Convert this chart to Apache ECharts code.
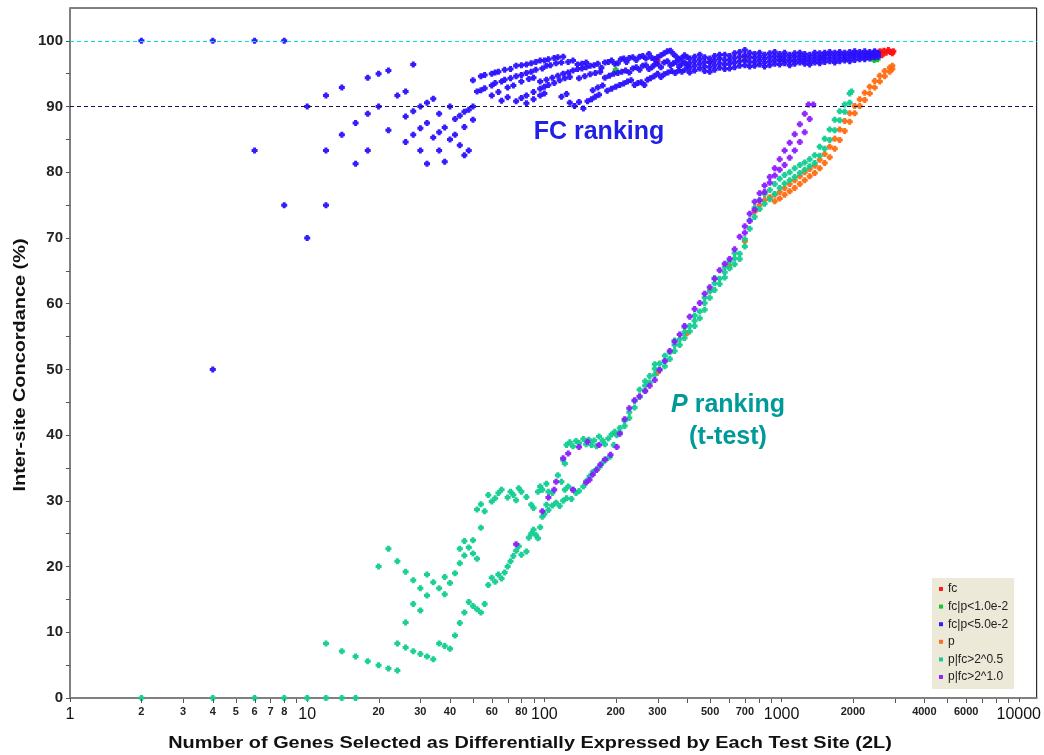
<!DOCTYPE html>
<html>
<head>
<meta charset="utf-8">
<script src="https://cdn.jsdelivr.net/npm/echarts@6/dist/echarts.min.js"></script>
<style>
  html, body { margin: 0; padding: 0; background: #ffffff; }
  #chart { width: 1044px; height: 755px; }
</style>
</head>
<body>
<div id="chart"></div>
<script>
// Series names and colours (legend order)
const seriesNames = ['fc', 'fc|p<1.0e-2', 'fc|p<5.0e-2', 'p', 'p|fc>2^0.5', 'p|fc>2^1.0'];
const seriesColors = ['#ff1010', '#10c020', '#2a10ff', '#ff6a10', '#10cc90', '#8a1cff'];

// x-axis tick values / labels (log scale, genes selected = 2L)
const xMinorTickValues = [2,3,4,5,6,7,8,9,20,30,40,50,60,70,80,90,200,300,400,500,600,700,800,900,2000,3000,4000,5000,6000,7000,8000,9000];
const xMinorLabelValues = [2,3,4,5,6,7,8,20,30,40,60,80,200,300,500,700,2000,4000,6000];
const yLabelValues = [0,10,20,30,40,50,60,70,80,90,100];
const yTickValues = [0,5,10,15,20,25,30,35,40,45,50,55,60,65,70,75,80,85,90,95,100];
const refLines = [100, 90];

// fc : mostly hidden under the other FC curves, visible at the far end
const fcPoints = [
  [300,97.0],[500,96.8],[700,97.5],[1000,97.3],[1500,97.6],[2000,97.8],[2300,98.0],
  [2470,98.2],[2540,97.9],[2600,98.4],[2650,97.8],[2700,98.5],[2760,98.2],[2820,98.6],
  [2880,98.3],[2930,98.1],[2960,98.4]
];

// fc|p<1.0e-2
const fcP01Points = [
  [200,95.6],[400,96.4],[700,97.0],[1000,97.2],[1500,97.3],[2000,97.5],[2300,97.6],
  [2420,97.3],[2460,97.1],[2500,97.4],[2540,97.2]
];

// fc|p<5.0e-2 : small-n discrete values, then streaks, then the dense band
const fcP05Early = [
  [2,100],[4,100],[4,50],[6,100],[6,83.3],[8,100],[8,75],[10,90],[10,70],
  [12,91.7],[12,83.3],[12,75],[14,92.9],[14,85.7],[16,87.5],[16,81.3],
  [18,94.4],[18,88.9],[18,83.3],[20,95],[20,90],[22,95.5],[22,86.4],
  [24,91.7],[26,92.3],[26,88.5],[26,84.6],[28,96.4],[28,89.3],[28,85.7],
  [30,90],[30,86.7],[30,83.3],[32,90.6],[32,87.5],[32,81.3],[34,91.2],[34,85.3],
  [36,88.9],[36,86.1],[36,83.3],[38,86.8],[38,81.6],[40,90],[40,85],[42,88.1],[42,85.7],
  [44,88.6],[44,84.1],[46,89.2],[46,86.9],[46,82.6],[48,89.5],[48,83.3],[50,90],[50,88]
];
const fcP05Streaks = [
  [50,94.0],[54,94.6],[56,94.8],[60,95.0],[62,95.2],[64,95.3],[68,95.6],[72,95.7],[76,96.2],
  [80,96.3],[84,96.4],[88,96.6],[92,96.8],[96,97.0],[100,97.0],[104,97.2],[110,97.4],[114,97.5],[120,97.6],
  [52,92.3],[54,92.5],[56,92.8],[60,93.2],[62,93.6],[66,93.8],[68,94.1],[72,94.3],[76,94.6],
  [80,94.8],[84,95.1],[88,95.3],[92,95.6],[98,95.8],[102,96.2],[106,96.3],[112,96.6],[118,96.7],
  [60,91.7],[64,92.2],[70,92.9],[74,93.2],[80,93.8],[86,94.2],[90,94.4],
  [76,90.8],[80,91.3],[84,91.7],[90,92.2],[96,92.7],[100,93.0],[104,93.3],[110,93.6],[116,94.0],[122,94.3],[128,94.5],
  [84,90.5],[90,91.1],[96,91.7],[100,92.0],
  [66,90.9],[70,91.4],[96,93.8],[102,94.1],[108,94.4],[114,94.7],[120,95.0],[126,95.2],[132,95.5],[138,95.7],[144,95.8],[150,96.0],
  [118,91.5],[124,91.9],[128,90.6],[134,90.1],[140,90.7],[146,89.7],[152,90.8],[158,91.1],[164,91.5],[170,91.8]
];
const fcP05Cloud = [
  [126,96.8],[132,97.0],[138,96.4],[144,96.5],[150,96.7],[156,96.2],[162,96.3],[168,96.5],[174,95.9],[180,96.7],
  [186,96.8],[192,97.0],[198,96.5],[204,96.6],[210,97.2],[216,97.3],[222,96.8],[228,97.4],[236,97.5],[244,97.1],
  [252,97.6],[260,97.7],[268,97.3],[276,98.0],[284,97.4],[292,97.2],[300,97.5],[310,97.8],[320,98.1],[330,98.4],
  [340,98.5],[350,98.0],[360,97.6],[370,97.2],[380,97.4],[390,97.8],[400,97.5],
  [140,94.3],[148,94.6],[156,94.9],[164,95.1],[172,95.3],[180,94.4],[188,94.7],[196,95.0],[204,95.1],[212,95.3],
  [220,95.5],[228,95.2],[236,95.8],[244,96.0],[252,95.6],[260,96.2],[268,96.3],[276,95.7],[284,96.0],[292,96.4],
  [300,96.5],[310,96.0],[320,96.7],[330,96.9],[340,96.3],[350,96.6],[360,96.8],[370,96.1],[380,96.5],[390,96.7],[400,96.3],
  [160,92.5],[168,92.9],[176,93.2],[184,92.4],[192,92.7],[200,93.0],[208,93.3],[216,93.5],[224,93.8],[232,94.0],
  [240,93.3],[248,93.6],[256,93.7],[264,93.3],[272,94.1],[280,94.3],[290,94.6],[300,95.0],[310,94.5],[320,94.9],
  [332,95.2],[344,95.4],[356,95.1],[368,95.5],[380,95.3],[392,95.6]
];
// dense band: gene counts and the concordance values seen at each count
const fcP05BandN = [410,430,452,474,498,522,548,576,604,634,666,700,734,770,808,848,892,936,982,1030,
  1082,1136,1194,1252,1314,1380,1448,1520,1596,1676,1758,1846,1938,2034,2136,2242,2354,2470,2550];
const fcP05BandV = [
  [95.2,95.9,96.6,97.3],[95.5,96.2,96.9,97.6],[95.8,96.5,97.2,97.9],[95.4,96.1,96.8,97.5],[95.3,96.0,96.7,97.3],
  [95.6,96.3,97.0,97.7],[95.9,96.6,97.3,97.9],[95.7,96.4,97.1,97.9],[95.8,96.5,97.1,97.7],[96.0,96.7,97.4,98.1],
  [96.2,96.9,97.6,98.3],[96.3,97.0,97.8,98.6],[96.1,96.8,97.5,98.2],[96.2,96.8,97.4,98.0],[96.4,97.0,97.6,98.2],
  [96.1,96.7,97.3,97.9],[96.3,96.9,97.5,98.1],[96.5,97.1,97.7,98.3],[96.4,97.0,97.5,98.0],[96.6,97.1,97.7,98.2],
  [96.3,96.9,97.4,97.9],[96.5,97.0,97.6,98.1],[96.7,97.2,97.7,98.2],[96.5,97.0,97.5,98.0],[96.4,96.9,97.4,97.9],
  [96.7,97.2,97.7,98.2],[96.6,97.1,97.6,98.1],[96.8,97.3,97.8,98.2],[96.9,97.4,97.9,98.3],[96.7,97.2,97.7,98.2],
  [96.9,97.4,97.9,98.3],[97.0,97.4,97.8,98.2],[96.9,97.4,97.9,98.3],[97.1,97.6,98.0,98.4],[97.2,97.6,98.0,98.3],
  [97.2,97.6,98.0,98.4],[97.3,97.7,98.0,98.3],[97.5,97.8,98.1,98.4],[97.6,98.0,98.2]
];

// p : two tracks from the mid range up to the end
const pBandN = [770,808,848,892,936,982,1030,1082,1136,1194,1252,1314,1380,1448,1520,1596,1676,1758,
  1846,1938,2034,2136,2242,2354,2470,2594,2722,2858,2930];
const pBandV = [
  [74.0],[75.0],[75.8],[76.2],[76.6,75.6],[77.0,76.0],[77.6,76.6],[78.2,77.1],[78.8,77.6],[79.4,78.2],
  [80.0,78.8],[80.5,79.4],[81.0,79.9],[81.9,80.6],[82.8,81.4],[83.9,82.3],[85.1,83.6],[86.5,84.9],
  [87.8,86.3],[89.0,87.7],[90.1,89.0],[91.1,90.1],[92.1,91.0],[93.0,92.0],[93.9,92.9],[94.7,93.8],
  [95.4,94.6],[95.9,95.3],[96.2,95.7]
];
const pEarly = [[300,49.5],[400,55.5],[500,62],[600,65.8],[700,69.5]];

// p|fc>2^0.5 : low-n values and branches
const pFc05Sparse = [
  [2,0],[4,0],[6,0],[8,0],[10,0],[12,0],[14,0],[16,0],
  [12,8.3],[14,7.1],[16,6.3],[18,5.6],[20,5],[22,4.5],[24,4.2],[20,20],[22,22.7],[24,20.8],[26,19.2],[28,17.9],
  [32,18.8],[30,16.7],[26,11.5],[28,14.3],[30,13.3],[32,15.6],[24,8.3],[26,7.7],[28,7.1],[30,6.7],[32,6.3],
  [34,5.9],[36,8.3],[38,7.9],[40,7.5],[42,9.5],[44,11.4],[46,13],[48,14.6],[50,14],[52,13.5],[54,13],[56,14.3],
  [34,17.6],[36,16.7],[38,18.4],[38,15.8],[40,17.5],[42,19],[44,20.5],[44,22.7],[46,21.7],[46,23.9],[48,22.9],
  [50,22],[50,24],[52,21.2],[54,25.9],
  [58,17.2],[60,18.3],[62,17.7],[64,18.8],[66,18.2],[68,19.1],[70,20],[72,20.8],[74,21.6],[76,22.4],[78,23.1],
  [80,21.8],[84,22.3],[86,24.4],[88,25],[90,25.6],[92,24.8],[94,24.3],[96,26],[98,27.6],[100,28],[102,29.4],
  [52,28.7],[54,29.5],[56,28.4],[58,30.9],[60,29.9],[62,30.4],[64,31.2],[66,31.7],[70,30.5],[72,31.4],[74,30.9],
  [76,30.1],[78,31.9],[80,31.4],[84,30.6],[88,29.4],[90,28.9],[94,31.4],[96,32.2],[98,31.7],[102,32.6],[104,31.4],
  [108,31.2],[114,33.9],[118,32.9],[122,31.7],[126,32.2],[132,31.7],[136,31.2],
  [120,36.2],[122,35.7],[124,38.5],[128,38.9],[132,38.3],[136,39.1],[140,38.8],[146,39.4],[150,38.6],[154,39.3],
  [158,38.5],[162,39.2],[166,38.3],[170,39.8],[176,39.2],[180,38.6],[186,39.5],[192,40.1],[198,40.5],
  [104,28.6],[108,29.3],[112,29.7],[116,29.2],[120,30],[124,30.4],[130,30.3],[140,31.5],[146,32.2],
  [150,33],[155,33.7],[160,34.4],[166,34.8],[171,35.2],[176,35.8],[182,36.3],[189,36.7],[196,38.5],[202,40]
];
// p|fc>2^0.5 : main band, gene counts and values at each count
const pFc05BandN = [208,218,228,240,252,266,278,292,306,322,338,354,372,390,410,430,452,474,498,522,548,576,
  604,634,666,700,734,770,808,848,892,936,982,1030,1082,1136,1194,1252,1314,1380,1448,1520,1596,1676,1758,
  1846,1938,1970];
const pFc05BandV = [
  [41.1,40.4],[42.2,41.4],[43.5,42.6],[45.2,44.2],[46.9,45.8],[47.5,46.7,48.2],[49.0,48.0],[50.1,49.2,50.8],[50.9,50.0],
  [51.3,50.5,52.1],[52.6,51.6],[53.7,52.8,54.4],[54.6,53.7],[55.7,54.8,56.4],[56.6,55.8],[57.4,56.6,58.2],[58.8,57.8],[60.1,59.1,60.9],
  [61.9,60.9],[63.1,62.1,63.9],[63.8,63.0],[64.8,64.0,65.6],[66.4,65.4],[66.9,66.0,67.7],[67.6,66.8],[69.8,68.7],[72.7,71.4],
  [74.6,73.2],[75.8,74.4],[76.7,75.2],[77.3,75.9],[78.2,76.7],[79.0,77.6],[79.6,78.3],[80.0,78.8],[80.6,79.3],
  [81.1,79.9],[81.5,80.4],[82.0,80.9],[82.6,81.4],[83.9,82.5],[85.1,83.6],[86.5,84.9],[88.0,86.4],[89.3,87.9],
  [90.3,89.2],[92.0,90.6],[92.3]
];

// p|fc>2^1.0
const pFc10Sparse = [
  [76,23.4],[98,28.4],[104,30.5],[110,31.7],[112,32.9],[120,36.5],[126,37.2],[132,31.7],
  [140,38.2],[152,39],[170,38.5],
  [150,32.8],[155,33.2],[160,34],[166,34.7],[172,35.5],[180,36.3],[190,37],[202,38.2]
];
const pFc10BandN = [208,218,228,240,252,266,278,292,306,322,338,354,372,390,410,430,452,474,498,522,548,576,
  604,634,666,700,734,770,808,848,892,936,982,1030,1082,1136,1194,1252,1300,1314,1360];
const pFc10BandV = [
  [40.2],[42.4],[44.1],[45.3],[45.9],[46.7],[47.5],[48.4],[49.9],[51.3],[52.8],[54.2],[55.3],[56.6],[58.0],
  [59.2],[60.1],[61.5],[62.5],[63.8],[65.1],[66.1],[66.8],[68.3],[70.2],[71.8,70.8],[73.7,72.6],[75.5,74.3],
  [76.8,75.7],[78.0,77.0],[79.3,78.4],[80.6,79.5],[82.0,80.4],[83.3,81.1],[84.5,82.2],[85.8,83.3],[87.3,84.6],
  [88.9,86.1],[90.3],[88.1],[90.3]
];

const expand = (ns, vs) => ns.flatMap((n, i) => vs[i].map(v => [n, v]));

const fcP05Points = fcP05Early.concat(fcP05Streaks, fcP05Cloud, expand(fcP05BandN, fcP05BandV));
const pPoints = pEarly.concat(expand(pBandN, pBandV));
const pFc05Points = pFc05Sparse.concat(expand(pFc05BandN, pFc05BandV));
const pFc10Points = pFc10Sparse.concat(expand(pFc10BandN, pFc10BandV));

const seriesData = [fcPoints, fcP01Points, fcP05Points, pPoints, pFc05Points, pFc10Points];

const FONT = '"Liberation Sans", Arial, sans-serif';
const plusSymbol = 'path://M1.5,0H4.5V1.5H6V4.5H4.5V6H1.5V4.5H0V1.5H1.5Z';

const chart = echarts.init(document.getElementById('chart'), null, { renderer: 'canvas' });

const series = seriesNames.map((name, i) => {
  const s = {
    name,
    type: 'scatter',
    data: seriesData[i],
    symbol: plusSymbol,
    symbolSize: 6,
    itemStyle: { color: seriesColors[i], opacity: 0.95 },
    emphasis: { disabled: true },
    silent: true
  };
  if (i === 0) {
    s.markLine = {
      silent: true,
      symbol: 'none',
      label: { show: false },
      data: [
        { yAxis: refLines[0], lineStyle: { color: '#00dcdc', type: [4, 3], width: 1.2, opacity: 1 } },
        { yAxis: refLines[1], lineStyle: { color: '#14145a', type: [4, 3], width: 1, opacity: 1 } }
      ]
    };
  }
  return s;
});

const option = {
  animation: false,
  backgroundColor: '#ffffff',
  grid: {
    left: 70, right: 7, top: 8, bottom: 57,
    show: true, borderColor: '#000000', borderWidth: 1, backgroundColor: 'transparent'
  },
  legend: {
    data: seriesNames,
    orient: 'vertical',
    left: 932, top: 578,
    padding: [4, 6, 5, 7],
    backgroundColor: '#ece9d8',
    icon: 'rect',
    itemWidth: 4, itemHeight: 4,
    itemGap: 3.6,
    selectedMode: false,
    textStyle: { fontFamily: FONT, fontSize: 12, color: '#222', lineHeight: 14 }
  },
  xAxis: {
    type: 'log',
    logBase: 10,
    min: 1,
    max: 11900,
    axisLine: { show: true, lineStyle: { color: '#808080', width: 2 } },
    axisTick: { show: true, length: 4, inside: false, lineStyle: { color: '#555' } },
    axisLabel: {
      fontFamily: FONT, fontSize: 16, color: '#111', margin: 9,
      showMaxLabel: false,
      formatter: v => ([1, 10, 100, 1000, 10000].indexOf(Math.round(v)) >= 0 ? String(Math.round(v)) : '')
    },
    splitLine: { show: false }
  },
  yAxis: {
    type: 'value',
    min: 0, max: 105, interval: 5,
    axisLine: { show: true, lineStyle: { color: '#808080', width: 2 } },
    axisTick: { show: true, length: 4, lineStyle: { color: '#555' }, customValues: yTickValues },
    axisLabel: {
      fontFamily: FONT, fontSize: 15, fontWeight: 'bold', color: '#222', margin: 7,
      customValues: yLabelValues
    },
    splitLine: { show: false }
  },
  series
};

chart.setOption(option);

// Minor ticks and labels on the log axis, titles and annotations
function addExtras() {
  const yBase = chart.convertToPixel({ yAxisIndex: 0 }, 0);
  const g = [];
  xMinorTickValues.forEach(v => {
    const x = Math.round(chart.convertToPixel({ xAxisIndex: 0 }, v)) + 0.5;
    g.push({ type: 'line', silent: true, z: 5,
      shape: { x1: x, y1: yBase + 1, x2: x, y2: yBase + 5 },
      style: { stroke: '#555', lineWidth: 1 } });
  });
  xMinorLabelValues.forEach(v => {
    const x = chart.convertToPixel({ xAxisIndex: 0 }, v);
    g.push({ type: 'text', silent: true, x: x, y: yBase + 14,
      style: { text: String(v), font: 'bold 11px ' + FONT, fill: '#222', align: 'center', verticalAlign: 'middle' } });
  });
  // axis titles: slightly wide lettering
  g.push({ type: 'text', silent: true, x: 530, y: 743, scaleX: 1.17,
    style: { text: 'Number of Genes Selected as Differentially Expressed by Each Test Site (2L)',
      font: 'bold 17px ' + FONT, fill: '#111', align: 'center', verticalAlign: 'middle' } });
  g.push({ type: 'text', silent: true, x: 20, y: 365, rotation: Math.PI / 2, scaleX: 1.17,
    style: { text: 'Inter-site Concordance (%)',
      font: 'bold 17px ' + FONT, fill: '#111', align: 'center', verticalAlign: 'middle' } });
  g.push({ type: 'text', silent: true, x: 599, y: 132,
    style: { text: 'FC ranking', font: 'bold 25px ' + FONT, fill: '#2020e8', align: 'center', verticalAlign: 'middle' } });
  g.push({ type: 'text', silent: true, x: 728, y: 405,
    style: { text: '{i|P} ranking', font: 'bold 25px ' + FONT, fill: '#009a9a', align: 'center', verticalAlign: 'middle',
      rich: { i: { fontStyle: 'italic', fontWeight: 'bold', fontSize: 25, fontFamily: FONT, fill: '#009a9a' } } } });
  g.push({ type: 'text', silent: true, x: 728, y: 437,
    style: { text: '(t-test)', font: 'bold 25px ' + FONT, fill: '#009a9a', align: 'center', verticalAlign: 'middle' } });
  chart.setOption({ graphic: g });
}
addExtras();
</script>
</body>
</html>
